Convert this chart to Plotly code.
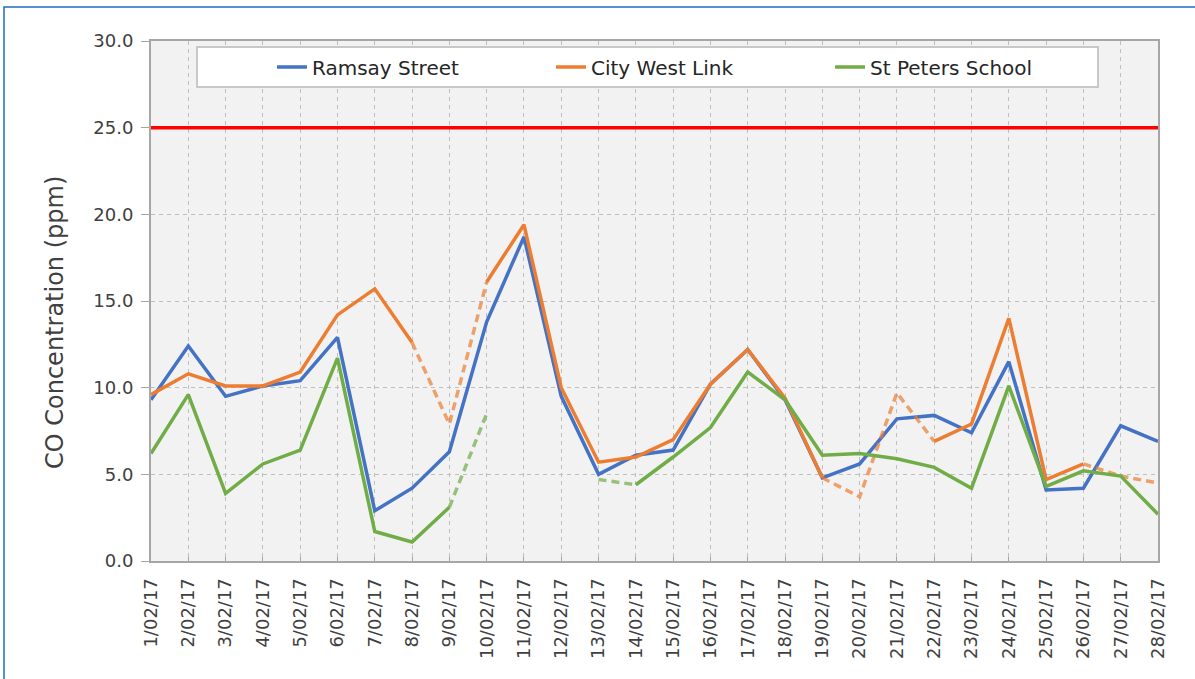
import plotly.graph_objects as go

dates = [f"{d}/02/17" for d in range(1, 29)]

ramsay = [9.3, 12.4, 9.5, 10.1, 10.4, 12.9, 2.9, 4.2, 6.3, 13.8, 18.7, 9.5, 5.0, 6.1, 6.4,
          10.2, 12.2, 9.3, 4.8, 5.6, 8.2, 8.4, 7.4, 11.5, 4.1, 4.2, 7.8, 6.9]
citywest = [9.6, 10.8, 10.1, 10.1, 10.9, 14.2, 15.7, 12.6, 7.9, 16.1, 19.4, 10.0, 5.7, 6.0, 7.0,
            10.2, 12.2, 9.4, 4.8, 3.7, 9.7, 6.9, 7.9, 14.0, 4.7, 5.6, 4.9, 4.5]
citywest_est = [9, 20, 21, 27, 28]          # days with estimated (dashed) values
stpeters = [6.2, 9.6, 3.9, 5.6, 6.4, 11.7, 1.7, 1.1, 3.1, 8.5, None, None, 4.7, 4.4, 6.0,
            7.7, 10.9, 9.3, 6.1, 6.2, 5.9, 5.4, 4.2, 10.1, 4.3, 5.2, 4.9, 2.7]
stpeters_est = [10, 13]
criterion = 25.0

names = ["Ramsay Street", "City West Link", "St Peters School"]
colors = ["#4472C4", "#ED7D31", "#70AD47"]
dash_colors = ["rgba(68,114,196,0.7)", "rgba(237,125,49,0.7)", "rgba(112,173,71,0.7)"]


def split(values, est_days):
    est = {d - 1 for d in est_days}
    solid = [None if i in est else v for i, v in enumerate(values)]
    near = set()
    for i in est:
        near.update({i - 1, i, i + 1})
    dashed = [v if i in near else None for i, v in enumerate(values)]
    return solid, dashed


fig = go.Figure()

fig.add_trace(go.Scatter(x=dates, y=[criterion] * len(dates), mode="lines",
                         line=dict(color="#FF0000", width=3.5), showlegend=False,
                         hoverinfo="skip"))

series = [(ramsay, []), (citywest, citywest_est), (stpeters, stpeters_est)]
for k, (vals, est) in enumerate(series):
    solid, dashed = split(vals, est)
    if est:
        fig.add_trace(go.Scatter(x=dates, y=dashed, mode="lines", showlegend=False,
                                 connectgaps=False,
                                 line=dict(color=dash_colors[k], width=3.5, dash="8px,5px")))
    fig.add_trace(go.Scatter(x=dates, y=solid, mode="lines", name=names[k],
                             connectgaps=False,
                             line=dict(color=colors[k], width=3.5)))

W, H = 1195, 679
L, R, T, B = 151, 1158, 41, 561


def px(x):
    return (x - L) / (R - L)


def py(y):
    return (B - y) / (B - T)


fig.update_layout(
    width=W, height=H,
    margin=dict(l=L, r=W - R, t=T, b=H - B, autoexpand=False),
    paper_bgcolor="white",
    plot_bgcolor="#F2F2F2",
    font=dict(family="DejaVu Sans", color="#404040", size=18),
    legend=dict(orientation="h", x=px(272), xanchor="left", y=py(67), yanchor="middle",
                bgcolor="rgba(0,0,0,0)", borderwidth=0,
                entrywidth=234, entrywidthmode="pixels",
                font=dict(size=20, color="#262626")),
    shapes=[
        dict(type="rect", xref="paper", yref="paper",
             x0=px(197), x1=px(1098), y0=py(87), y1=py(47),
             fillcolor="white", line=dict(color="#C8C8C8", width=2), layer="above"),
        dict(type="rect", xref="paper", yref="paper",
             x0=px(4), x1=px(1300), y0=py(800), y1=py(7),
             fillcolor="rgba(0,0,0,0)", line=dict(color="#1F6FC0", width=1.5)),
    ],
    annotations=[
        dict(text="CO Concentration (ppm)", xref="paper", yref="paper",
             x=px(55), y=py(323), textangle=-90, showarrow=False,
             font=dict(size=24, color="#404040"), xanchor="center", yanchor="middle"),
    ],
)

fig.update_xaxes(
    type="category", range=[0, len(dates) - 1],
    showgrid=True, gridcolor="#BFBFBF", gridwidth=1, griddash="4px,4px",
    showline=True, linecolor="#A6A6A6", linewidth=2, mirror=True,
    ticks="inside", ticklen=4, tickcolor="#A6A6A6",
    tickangle=-90, tickfont=dict(size=18, color="#404040"),
    ticklabelstandoff=8, automargin=False,
)
fig.update_yaxes(
    range=[0, 30], dtick=5, tickformat=".1f",
    showgrid=True, gridcolor="#BFBFBF", gridwidth=1, griddash="4px,4px",
    showline=True, linecolor="#A6A6A6", linewidth=2, mirror=True,
    ticks="outside", ticklen=8, tickcolor="#A6A6A6",
    tickfont=dict(size=18, color="#404040"),
    ticklabelstandoff=4, zeroline=False, automargin=False,
)

fig.write_html("out.html",
               config={"displayModeBar": False},
               post_script="document.body.style.margin='0';document.body.style.overflow='hidden';")
